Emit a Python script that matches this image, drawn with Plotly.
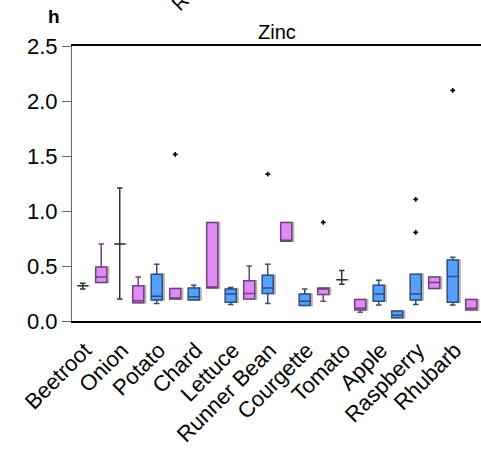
import plotly.graph_objects as go

categories = ["Beetroot", "Onion", "Potato", "Chard", "Lettuce", "Runner Bean",
              "Courgette", "Tomato", "Apple", "Raspberry", "Rhubarb"]

# two boxes per category: left slot (-1) then right slot (+1)
slot_cat = [0, 0, 1, 1, 2, 2, 3, 3, 4, 4, 5, 5, 6, 6, 7, 7, 8, 8, 9, 9, 10, 10]
slot_side = [-1, 1] * 11
slot_group = ["grey", "pink", "grey", "pink", "blue", "pink", "blue", "pink",
              "blue", "pink", "blue", "pink", "blue", "pink", "grey", "pink",
              "blue", "blue", "blue", "pink", "blue", "pink"]

lower = [0.29, 0.35, 0.20, 0.165, 0.16, 0.20, 0.19, 0.30, 0.15, 0.20, 0.16,
         0.725, 0.14, 0.18, 0.333, 0.08, 0.145, 0.03, 0.15, 0.295, 0.145, 0.10]
q1 = [0.32, 0.35, 0.70, 0.165, 0.19, 0.20, 0.19, 0.30, 0.17, 0.20, 0.25,
      0.725, 0.14, 0.24, 0.375, 0.10, 0.18, 0.03, 0.19, 0.295, 0.17, 0.10]
median = [0.32, 0.40, 0.70, 0.185, 0.225, 0.20, 0.22, 0.30, 0.245, 0.25, 0.30,
          0.725, 0.18, 0.295, 0.375, 0.115, 0.245, 0.052, 0.245, 0.35, 0.405, 0.115]
q3 = [0.32, 0.49, 0.70, 0.32, 0.425, 0.295, 0.30, 0.895, 0.29, 0.365, 0.415,
      0.895, 0.245, 0.30, 0.375, 0.195, 0.325, 0.09, 0.425, 0.40, 0.555, 0.195]
upper = [0.343, 0.70, 1.21, 0.40, 0.515, 0.295, 0.325, 0.895, 0.305, 0.50, 0.515,
         0.895, 0.29, 0.30, 0.46, 0.195, 0.37, 0.09, 0.425, 0.40, 0.58, 0.195]

outlier_slot = [5, 10, 13, 18, 18, 20]
outlier_value = [1.515, 1.335, 0.897, 0.806, 1.106, 2.097]

y_ticks = [0.0, 0.5, 1.0, 1.5, 2.0, 2.5]

fill_map = {"pink": "#E08AF6", "blue": "#55A1FD", "grey": "rgba(0,0,0,0)"}
line_map = {"pink": "#6E4478", "blue": "#2F4E7C", "grey": "#333333"}

OFFSET = 0.25
BOXW = 0.30
SHADOW = 0.05

fig = go.Figure()

pos = [slot_cat[i] + slot_side[i] * OFFSET for i in range(len(slot_cat))]

# shadows
for i in range(len(pos)):
    fig.add_trace(go.Box(
        x=[pos[i] + SHADOW], q1=[q1[i]], median=[q1[i]], q3=[q3[i]],
        lowerfence=[q1[i]], upperfence=[q3[i]],
        width=BOXW, fillcolor="#B8B8B8", line=dict(color="#B8B8B8", width=1.5),
        boxpoints=False, showlegend=False, hoverinfo="skip"))

# boxes
for i in range(len(pos)):
    g = slot_group[i]
    fig.add_trace(go.Box(
        x=[pos[i]], q1=[q1[i]], median=[median[i]], q3=[q3[i]],
        lowerfence=[lower[i]], upperfence=[upper[i]],
        width=BOXW, whiskerwidth=0.5,
        fillcolor=fill_map[g], line=dict(color=line_map[g], width=1.5),
        boxpoints=False, showlegend=False, hoverinfo="skip"))

fig.add_trace(go.Scatter(
    x=[pos[s] for s in outlier_slot], y=outlier_value, mode="markers",
    marker=dict(symbol="cross", size=4, color="black"),
    showlegend=False, hoverinfo="skip"))

font_family = "Liberation Sans, Arial, sans-serif"

fig.update_layout(
    width=481, height=463,
    margin=dict(l=72, r=0, t=46, b=142, autoexpand=False),
    paper_bgcolor="white", plot_bgcolor="white",
    font=dict(family=font_family, color="black"),
    boxmode="overlay",
    xaxis=dict(
        range=[-0.54, 10.514], automargin=False,
        tickmode="array", tickvals=list(range(len(categories))), ticktext=categories,
        tickangle=-45, tickfont=dict(size=22, family=font_family, color="black"),
        ticks="outside", ticklen=6, tickcolor="rgba(0,0,0,0)",
        ticklabelshift=-7,
        showline=True, linecolor="black", linewidth=1.5, mirror=True,
        showgrid=False, zeroline=False),
    yaxis=dict(
        range=[0, 2.5], automargin=False,
        tickmode="array", tickvals=y_ticks, ticktext=[f"{v:.1f}" for v in y_ticks],
        tickfont=dict(size=22, family=font_family, color="black"),
        ticks="outside", ticklen=9, tickcolor="#666666", tickwidth=1,
        showline=True, linecolor="#666666", linewidth=1,
        showgrid=False, zeroline=False),
    annotations=[
        dict(text="Zinc", xref="paper", yref="paper", x=0.5, y=1.0,
             xanchor="center", yanchor="bottom", yshift=1, showarrow=False,
             font=dict(size=20, family=font_family)),
        dict(text="<b>h</b>", xref="paper", yref="paper", x=-0.044, y=1.0,
             xanchor="center", yanchor="bottom", yshift=17, showarrow=False,
             font=dict(size=19, family=font_family)),
        dict(text="R", xref="paper", yref="paper", x=0.264, y=1.16,
             xanchor="center", yanchor="middle", textangle=-45, showarrow=False,
             font=dict(size=20, family=font_family)),
    ],
)

fig.write_html("out.html", config={"displayModeBar": False},
               post_script="document.body.style.margin='0';")
